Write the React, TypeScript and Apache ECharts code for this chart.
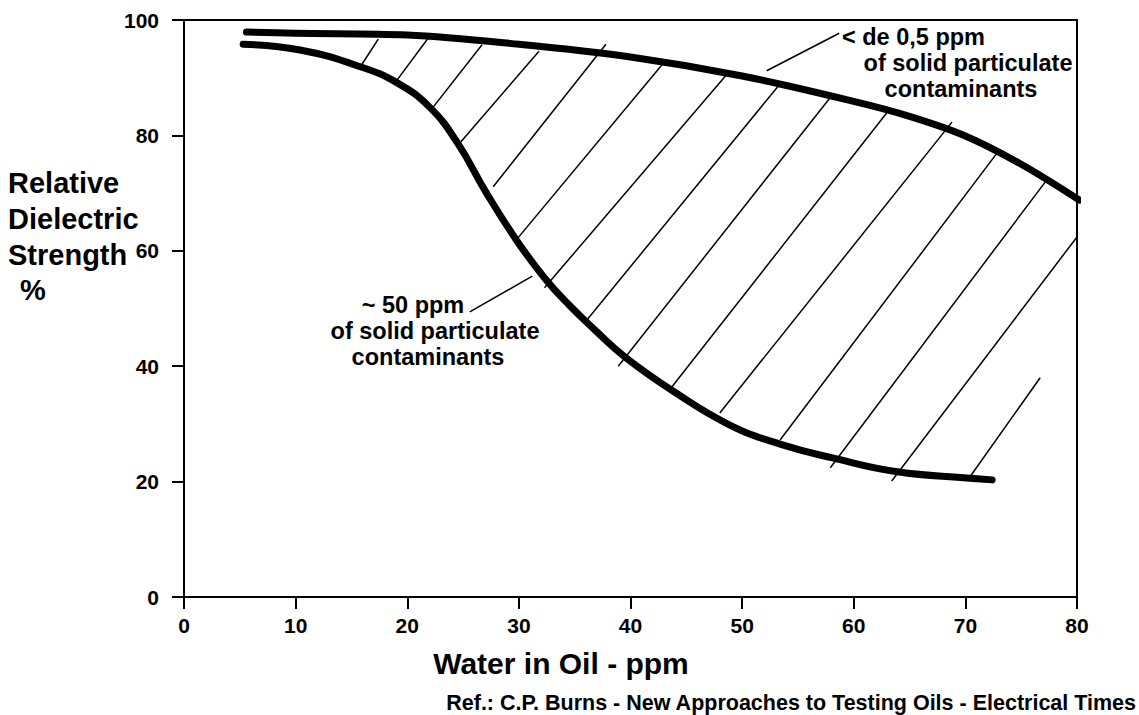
import React, { useEffect, useRef } from "react";
import * as echarts from "echarts";

// Axis ticks
const xMin = 0;
const xMax = 80;
const xStep = 10;
const yMin = 0;
const yMax = 100;
const yStep = 20;

// Upper curve: "< de 0,5 ppm of solid particulate contaminants"
const upperX = [5.6, 10, 20, 30, 40, 50, 60, 65, 70, 75, 80.2];
const upperY = [97.9, 97.7, 97.4, 95.8, 93.6, 90.3, 85.9, 83.3, 79.9, 75.0, 68.8];

// Lower curve: "~ 50 ppm of solid particulate contaminants"
const lowerX = [5.3, 10.4, 15.8, 19.1, 22, 24.5, 27.1, 29.8, 32.3, 34.5, 36.8, 39.5, 43.8, 48.9, 53.4, 58.1, 63.9, 70.4, 72.4];
const lowerY = [95.8, 94.8, 91.9, 89.1, 84.9, 78.7, 70, 61.8, 55.3, 50.6, 46.3, 41.6, 35.7, 29.8, 26.5, 24.1, 21.7, 20.6, 20.3];

// Hatching strokes between the two curves (data coordinates)
const hatchX1 = [15.8, 18.9, 22.2, 24.5, 27.7, 29.9, 32.3, 36.0, 38.9, 43.7, 48.0, 53.4, 57.9, 63.4, 70.4];
const hatchY1 = [91.9, 89.1, 84.6, 78.2, 71.1, 62.2, 53.6, 47.8, 40.0, 36.4, 31.9, 27.2, 22.4, 20.1, 20.8];
const hatchX2 = [17.4, 22.2, 26.7, 31.8, 37.8, 42.9, 48.6, 53.3, 58.2, 63.0, 68.8, 72.9, 77.3, 80.0, 76.7];
const hatchY2 = [96.7, 97.7, 95.7, 94.6, 95.8, 92.4, 90.5, 88.7, 87.3, 84.0, 82.3, 77.1, 72.3, 62.4, 38.0];

// Leader lines for annotations
const leaderX1 = [52.2, 25.6];
const leaderY1 = [91.2, 49.4];
const leaderX2 = [58.7, 31.2];
const leaderY2 = [97.7, 55.6];

// Texts
const upperLabel = ["< de 0,5 ppm", "of solid particulate", "contaminants"];
const lowerLabel = ["~ 50 ppm", "of solid particulate", "contaminants"];
const yNameLines = ["Relative", "Dielectric", "Strength", "%"];
const xName = "Water in Oil - ppm";
const refText = "Ref.: C.P. Burns - New Approaches to Testing Oils - Electrical Times";

const FONT = "'Liberation Sans', Arial, Helvetica, sans-serif";

export default function App() {
  const ref = useRef<HTMLDivElement>(null);

  useEffect(() => {
    if (!ref.current) return;
    const chart = echarts.init(ref.current, undefined, { renderer: "svg" });

    const hatchData = hatchX1.map((x, i) => ({
      coords: [
        [x, hatchY1[i]],
        [hatchX2[i], hatchY2[i]],
      ],
    }));
    const leaderData = leaderX1.map((x, i) => ({
      coords: [
        [x, leaderY1[i]],
        [leaderX2[i], leaderY2[i]],
      ],
    }));

    const txt = (
      text: string,
      x: number,
      y: number,
      size: number,
      align: string = "center"
    ) => ({
      type: "text",
      x,
      y,
      silent: true,
      style: {
        text,
        font: `bold ${size}px ${FONT}`,
        fill: "#000",
        textAlign: align,
        textVerticalAlign: "middle",
      },
    });

    const annSize = 23.5;
    const yNameSize = 29;

    chart.setOption({
      animation: false,
      backgroundColor: "#fff",
      grid: {
        left: 184,
        top: 20,
        right: 62,
        bottom: 118,
        show: true,
        borderColor: "#000",
        borderWidth: 2,
        containLabel: false,
      },
      xAxis: {
        type: "value",
        min: xMin,
        max: xMax,
        interval: xStep,
        splitLine: { show: false },
        axisLine: { show: true, onZero: false, lineStyle: { color: "#000", width: 2 } },
        axisTick: { show: true, inside: false, length: 12, lineStyle: { color: "#000", width: 2 } },
        axisLabel: {
          margin: 18,
          color: "#000",
          fontSize: 21,
          fontWeight: "bold",
          fontFamily: FONT,
        },
      },
      yAxis: {
        type: "value",
        min: yMin,
        max: yMax,
        interval: yStep,
        splitLine: { show: false },
        axisLine: { show: true, onZero: false, lineStyle: { color: "#000", width: 2 } },
        axisTick: { show: true, inside: false, length: 12, lineStyle: { color: "#000", width: 2 } },
        axisLabel: {
          margin: 25,
          color: "#000",
          fontSize: 21,
          fontWeight: "bold",
          fontFamily: FONT,
        },
      },
      series: [
        {
          type: "lines",
          coordinateSystem: "cartesian2d",
          silent: true,
          z: 2,
          lineStyle: { color: "#000", width: 1.5, opacity: 1 },
          data: hatchData,
        },
        {
          type: "lines",
          coordinateSystem: "cartesian2d",
          silent: true,
          z: 2,
          lineStyle: { color: "#000", width: 1.5, opacity: 1 },
          data: leaderData,
        },
        {
          type: "line",
          name: "< de 0,5 ppm",
          data: upperX.map((x, i) => [x, upperY[i]]),
          smooth: 0.35,
          showSymbol: false,
          clip: false,
          z: 3,
          lineStyle: { color: "#000", width: 7, cap: "round", join: "round" },
        },
        {
          type: "line",
          name: "~ 50 ppm",
          data: lowerX.map((x, i) => [x, lowerY[i]]),
          smooth: 0.45,
          showSymbol: false,
          clip: false,
          z: 3,
          lineStyle: { color: "#000", width: 7, cap: "round", join: "round" },
        },
      ],
      graphic: [
        txt(upperLabel[0], 842, 37, annSize, "left"),
        txt(upperLabel[1], 968, 63, annSize),
        txt(upperLabel[2], 961, 89, annSize),
        txt(lowerLabel[0], 413, 305, annSize),
        txt(lowerLabel[1], 435, 331, annSize),
        txt(lowerLabel[2], 428, 357, annSize),
        txt(yNameLines[0], 8, 183, yNameSize, "left"),
        txt(yNameLines[1], 8, 219, yNameSize, "left"),
        txt(yNameLines[2], 8, 255, yNameSize, "left"),
        txt(yNameLines[3], 33, 290, yNameSize),
        txt(xName, 561, 663, 30),
        txt(refText, 1136, 703, 21.5, "right"),
      ],
    });

    return () => chart.dispose();
  }, []);

  return (
    <div
      ref={ref}
      style={{ position: "fixed", left: 0, top: 0, width: 1139, height: 715, background: "#fff" }}
    />
  );
}
